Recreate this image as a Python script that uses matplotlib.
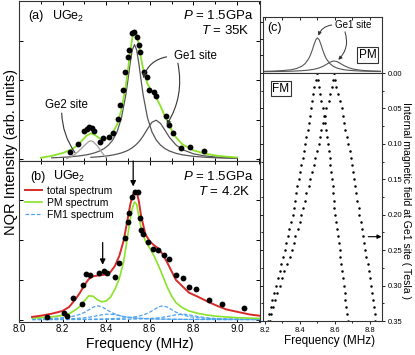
import matplotlib
matplotlib.use('Agg')
import matplotlib.pyplot as plt
from matplotlib.ticker import MultipleLocator, FormatStrFormatter, NullFormatter

plt.rcParams['font.family'] = ['Liberation Sans', 'DejaVu Sans']
plt.rcParams['mathtext.fontset'] = 'custom'
plt.rcParams['mathtext.rm'] = 'Liberation Sans'
plt.rcParams['mathtext.it'] = 'Liberation Sans:italic'
plt.rcParams['axes.linewidth'] = 0.8

####Panel (a): UGe2, P = 1.5GPa, T = 35K
freq_a = [8.10, 8.15, 8.20, 8.24, 8.27, 8.29, 8.31, 8.33, 8.35, 8.37,
          8.39, 8.41, 8.43, 8.45, 8.47, 8.49, 8.50, 8.51, 8.52, 8.53,
          8.54, 8.55, 8.56, 8.57, 8.59, 8.61, 8.63, 8.65, 8.67, 8.69,
          8.72, 8.75, 8.80, 8.85, 8.90, 8.95, 9.00]
total_a = [0.04, 0.09, 0.16, 0.25, 0.36, 0.48, 0.60, 0.66, 0.61, 0.53,
           0.51, 0.55, 0.67, 0.88, 1.25, 1.85, 2.26, 2.70, 3.07, 3.25,
           3.17, 2.90, 2.56, 2.27, 1.90, 1.72, 1.56, 1.34, 1.08, 0.84,
           0.56, 0.38, 0.23, 0.15, 0.10, 0.07, 0.05]
ge1_main_a = [0.031, 0.040, 0.053, 0.068, 0.084, 0.099, 0.116, 0.140, 0.171, 0.213,
              0.272, 0.358, 0.488, 0.697, 1.044, 1.620, 2.008, 2.421, 2.764, 2.900,
              2.764, 2.421, 2.008, 1.620, 1.044, 0.697, 0.488, 0.358, 0.272, 0.213,
              0.154, 0.116, 0.078, 0.056, 0.042, 0.033, 0.026]
ge1_side_a = [0.052, 0.060, 0.069,
              0.080, 0.093, 0.111, 0.134, 0.164, 0.205, 0.230, 0.260, 0.296, 0.338,
              0.388, 0.446, 0.514, 0.593, 0.772, 0.938, 0.990, 0.905, 0.735, 0.560,
              0.367, 0.248, 0.142, 0.090, 0.062, 0.045, 0.034]   # from 8.33 MHz
freq_ge2 = [8.22, 8.24, 8.26, 8.28, 8.30, 8.32, 8.33, 8.34, 8.36, 8.38, 8.40]
ge2_a = [0.02, 0.07, 0.14, 0.24, 0.35, 0.45, 0.47, 0.45, 0.34, 0.18, 0.04]

dots_fa = [8.234, 8.272, 8.297, 8.312, 8.323, 8.333, 8.345, 8.372, 8.384, 8.414,
           8.430, 8.456, 8.465, 8.476, 8.488, 8.498, 8.506, 8.518, 8.529, 8.540,
           8.549, 8.557, 8.575, 8.587, 8.598, 8.618, 8.628, 8.674, 8.687, 8.705,
           8.743, 8.784, 8.850]
dots_ia = [0.19, 0.39, 0.72, 0.76, 0.81, 0.79, 0.72, 0.45, 0.53, 0.57,
           0.66, 1.01, 1.37, 1.75, 2.21, 2.59, 2.76, 3.20, 3.22, 3.10,
           2.89, 2.72, 2.21, 2.09, 1.75, 1.71, 1.60, 1.10, 0.87, 0.66,
           0.28, 0.31, 0.22]

####Panel (b): UGe2, P = 1.5GPa, T = 4.2K
freq_b = [8.06, 8.10, 8.15, 8.20, 8.23, 8.26, 8.28, 8.30, 8.32, 8.34,
          8.36, 8.38, 8.40, 8.42, 8.44, 8.46, 8.48, 8.50, 8.51, 8.52,
          8.53, 8.54, 8.55, 8.56, 8.58, 8.60, 8.62, 8.64, 8.66, 8.68,
          8.70, 8.72, 8.75, 8.78, 8.82, 8.86, 8.90, 8.95, 9.00, 9.06,
          9.12]
total_b = [0.07, 0.10, 0.15, 0.22, 0.32, 0.52, 0.68, 0.87, 1.02, 1.09,
           1.11, 1.12, 1.14, 1.20, 1.35, 1.60, 1.98, 2.57, 2.88, 3.10,
           3.24, 3.22, 2.98, 2.62, 2.15, 1.97, 1.87, 1.79, 1.64, 1.44,
           1.22, 1.00, 0.84, 0.68, 0.58, 0.47, 0.37, 0.26, 0.20, 0.13,
           0.09]
pm_b = [0.04, 0.05, 0.07, 0.11, 0.15, 0.25, 0.34, 0.47, 0.60, 0.59,
        0.50, 0.45, 0.47, 0.57, 0.76, 1.03, 1.45, 2.15, 2.52, 2.80,
        2.96, 2.90, 2.60, 2.32, 1.98, 1.80, 1.60, 1.36, 1.10, 0.82,
        0.60, 0.43, 0.30, 0.22, 0.16, 0.12, 0.09, 0.07, 0.05, 0.04,
        0.03]
fm1_peak1 = [0.015, 0.020, 0.030, 0.049, 0.068, 0.101, 0.135, 0.183, 0.247, 0.314,
             0.350, 0.325, 0.261, 0.195, 0.143, 0.107, 0.081, 0.064, 0.057, 0.051,
             0.046, 0.041, 0.037, 0.034, 0.029, 0.024, 0.021, 0.018, 0.016, 0.014,
             0.012, 0.011, 0.009, 0.008, 0.007, 0.006, 0.005, 0.004, 0.004, 0.003,
             0.003]
fm1_peak2 = [0.004, 0.005, 0.006, 0.007, 0.008, 0.009, 0.010, 0.011, 0.012, 0.014,
             0.016, 0.018, 0.021, 0.024, 0.028, 0.033, 0.040, 0.050, 0.055, 0.062,
             0.070, 0.079, 0.091, 0.104, 0.139, 0.189, 0.254, 0.320, 0.350, 0.320,
             0.254, 0.189, 0.120, 0.079, 0.050, 0.033, 0.024, 0.017, 0.012, 0.009,
             0.007]
fm1_peak3 = [0.007, 0.009, 0.012, 0.018, 0.023, 0.031, 0.038, 0.048, 0.062, 0.079,
             0.101, 0.123, 0.138, 0.138, 0.123, 0.101, 0.079, 0.062, 0.055, 0.048,
             0.043, 0.038, 0.034, 0.031, 0.025, 0.021, 0.018, 0.015, 0.013, 0.011,
             0.010, 0.009, 0.007, 0.006, 0.005, 0.004, 0.004, 0.003, 0.003, 0.002,
             0.002]
fm1_peak4 = [0.002, 0.002, 0.002, 0.003, 0.003, 0.004, 0.004, 0.004, 0.005, 0.005,
             0.006, 0.006, 0.007, 0.008, 0.009, 0.010, 0.011, 0.013, 0.014, 0.015,
             0.016, 0.018, 0.019, 0.021, 0.025, 0.031, 0.038, 0.048, 0.062, 0.079,
             0.101, 0.123, 0.140, 0.123, 0.079, 0.048, 0.031, 0.019, 0.013, 0.009,
             0.006]
dots_fb = [8.128, 8.208, 8.219, 8.246, 8.289, 8.296, 8.307, 8.327, 8.369, 8.388,
           8.406, 8.442, 8.457, 8.486, 8.498, 8.506, 8.518, 8.532, 8.547, 8.553,
           8.560, 8.570, 8.591, 8.616, 8.636, 8.664, 8.690, 8.720, 8.751, 8.781,
           8.812, 8.873, 8.931, 9.034]
dots_ib = [0.08, 0.16, 0.09, 0.55, 0.39, 0.86, 1.14, 1.12, 1.17, 1.23,
           1.18, 1.08, 1.42, 2.05, 2.45, 2.68, 3.09, 3.22, 3.22, 2.55,
           2.26, 2.16, 1.96, 1.77, 1.75, 1.63, 1.53, 1.12, 1.04, 0.83,
           0.77, 0.50, 0.39, 0.30]

####Panel (c): Ge1 site spectrum (PM) and line positions vs internal field (FM)
freq_c = [8.19, 8.25, 8.30, 8.35, 8.38, 8.41, 8.43, 8.45, 8.46, 8.47,
          8.48, 8.49, 8.50, 8.51, 8.52, 8.53, 8.54, 8.55, 8.57, 8.59,
          8.61, 8.63, 8.65, 8.68, 8.71, 8.75, 8.80, 8.86]
ge1_low_c = [0.010, 0.015, 0.024, 0.039, 0.062, 0.102, 0.153, 0.242, 0.310, 0.397,
             0.496, 0.584, 0.620, 0.584, 0.496, 0.397, 0.310, 0.242, 0.153, 0.102,
             0.072, 0.054, 0.039, 0.029, 0.022, 0.015, 0.011, 0.008]
ge1_high_c = [0.005, 0.007, 0.009, 0.013, 0.017, 0.022, 0.027, 0.033, 0.038, 0.043,
              0.048, 0.055, 0.064, 0.074, 0.086, 0.100, 0.117, 0.135, 0.174, 0.199,
              0.190, 0.155, 0.117, 0.074, 0.048, 0.030, 0.018, 0.011]
field_c = [0.00, 0.01, 0.02, 0.03, 0.04, 0.05, 0.06, 0.07, 0.08, 0.09,
           0.10, 0.11, 0.12, 0.13, 0.14, 0.15, 0.16, 0.17, 0.18, 0.19,
           0.20, 0.21, 0.22, 0.23, 0.24, 0.25, 0.26, 0.27, 0.28, 0.29,
           0.30, 0.31, 0.32, 0.33, 0.34, 0.35]
line_1 = [8.497, 8.491, 8.482, 8.474, 8.469, 8.463, 8.455, 8.450, 8.444, 8.436,
          8.430, 8.423, 8.415, 8.408, 8.402, 8.392, 8.383, 8.375, 8.370, 8.364,
          8.358, 8.349, 8.339, 8.331, 8.322, 8.312, 8.303, 8.293, 8.284, 8.272,
          8.263, 8.253, 8.240, 8.234, 8.225, 8.217]
line_2 = [8.592, 8.587, 8.583, 8.573, 8.564, 8.549, 8.541, 8.531, 8.522, 8.516,
          8.507, 8.497, 8.488, 8.478, 8.469, 8.459, 8.450, 8.436, 8.427, 8.417,
          8.408, 8.398, 8.387, 8.373, 8.364, 8.354, 8.341, 8.325, 8.311, 8.297,
          8.284, 8.271, 8.259, 8.248, 8.237, 8.226]
line_3 = [8.497, 8.501, 8.507, 8.516, 8.522, 8.530, 8.535, 8.545, 8.549, 8.554,
          8.560, 8.564, 8.570, 8.573, 8.577, 8.583, 8.587, 8.589, 8.592, 8.596,
          8.602, 8.606, 8.611, 8.617, 8.621, 8.627, 8.630, 8.634, 8.640, 8.644,
          8.650, 8.655, 8.659, 8.663, 8.669, 8.672]
line_4 = [8.592, 8.598, 8.606, 8.617, 8.630, 8.640, 8.646, 8.653, 8.659, 8.669,
          8.674, 8.684, 8.691, 8.697, 8.703, 8.709, 8.716, 8.720, 8.726, 8.735,
          8.739, 8.749, 8.754, 8.760, 8.764, 8.773, 8.779, 8.787, 8.792, 8.798,
          8.806, 8.811, 8.817, 8.823, 8.827, 8.831]

####Colours
green = '#8ae32a'
red = '#d92a2a'
blue = '#4ea3f0'
dark = '#555555'
light = '#a0a0a0'

W, H = 415.0, 355.0
def rect(x0, x1, y0, y1):
    return [x0 / W, 1 - y1 / H, (x1 - x0) / W, (y1 - y0) / H]

fig = plt.figure(figsize=(4.15, 3.55), dpi=100)
ax_a = fig.add_axes(rect(19, 260, 1, 161))
ax_b = fig.add_axes(rect(19, 260, 161, 322))
ax_ct = fig.add_axes(rect(263, 382, 17, 73))
ax_c = fig.add_axes(rect(263, 382, 73, 321))

for ax in (ax_a, ax_b):
    ax.set_xlim(8.0, 9.106)
    ax.xaxis.set_major_locator(MultipleLocator(0.2))
    ax.xaxis.set_minor_locator(MultipleLocator(0.1))
    ax.yaxis.set_major_locator(MultipleLocator(1))
    ax.yaxis.set_major_formatter(NullFormatter())
    ax.tick_params(which='both', direction='in', top=True, right=True, length=3, width=0.7,
                   labelsize=7, pad=1.5)
    ax.tick_params(which='minor', length=2)
    for s in ax.spines.values():
        s.set_color('#333333')
ax_a.set_ylim(-0.04, 4.0)
ax_b.set_ylim(-0.058, 3.99)
ax_a.xaxis.set_major_formatter(NullFormatter())
ax_b.xaxis.set_major_formatter(FormatStrFormatter('%.1f'))

#### (a)
ax_a.plot(freq_a[1:], ge1_main_a[1:], color=dark, lw=0.9)
ax_a.plot(freq_a[7:], ge1_side_a, color=dark, lw=0.9)
ax_a.plot(freq_ge2, ge2_a, color=light, lw=0.9)
ax_a.plot(freq_a, total_a, color=green, lw=1.3)
ax_a.plot(dots_fa, dots_ia, 'o', color='black', ms=4.2, mew=0)

ax_a.text(0.038, 0.905, '(a)', transform=ax_a.transAxes, fontsize=9, va='center')
ax_a.text(0.138, 0.905, 'UGe$_2$', transform=ax_a.transAxes, fontsize=9, va='center')
ax_a.text(0.975, 0.91, '$P$ = 1.5GPa', transform=ax_a.transAxes, fontsize=9.5, va='center', ha='right')
ax_a.text(0.955, 0.815, '$T$ = 35K', transform=ax_a.transAxes, fontsize=9.5, va='center', ha='right')

ax_a.text(8.812, 2.62, 'Ge1 site', fontsize=8.3, ha='center', va='center')
ax_a.annotate('', xy=(8.570, 2.05), xytext=(8.677, 2.59),
              arrowprops=dict(arrowstyle='-|>', color='#333333', lw=0.8, mutation_scale=6,
                              shrinkA=0, shrinkB=0, connectionstyle='arc3,rad=0.3'))
ax_a.annotate('', xy=(8.677, 0.87), xytext=(8.729, 2.43),
              arrowprops=dict(arrowstyle='-|>', color='#333333', lw=0.8, mutation_scale=6,
                              shrinkA=0, shrinkB=0, connectionstyle='arc3,rad=-0.2'))
ax_a.text(8.216, 1.37, 'Ge2 site', fontsize=8.3, ha='center', va='center')
ax_a.annotate('', xy=(8.257, 0.17), xytext=(8.196, 1.17),
              arrowprops=dict(arrowstyle='-', color='#333333', lw=0.8,
                              shrinkA=0, shrinkB=0, connectionstyle='arc3,rad=0.15'))

#### (b)
for pk in (fm1_peak1, fm1_peak2, fm1_peak3, fm1_peak4):
    ax_b.plot(freq_b, pk, color=blue, lw=0.9, ls=(0, (3, 1.5)))
ax_b.plot(freq_b, pm_b, color=green, lw=1.2)
ax_b.plot(freq_b, total_b, color=red, lw=1.4)
ax_b.plot(dots_fb, dots_ib, 'o', color='black', ms=4.2, mew=0)

ax_b.plot([], [], color=red, lw=1.4, label='total spectrum')
ax_b.plot([], [], color=green, lw=1.2, label='PM spectrum')
ax_b.plot([], [], color=blue, lw=0.9, ls=(0, (3, 1.5)), label='FM1 spectrum')
h, l = ax_b.get_legend_handles_labels()
ax_b.legend(h[-3:], l[-3:], loc='upper left', bbox_to_anchor=(0.025, 0.845), frameon=False,
            fontsize=7.5, handlelength=1.6, handletextpad=0.5, labelspacing=0.2,
            borderpad=0, borderaxespad=0)

ax_b.text(0.046, 0.902, '(b)', transform=ax_b.transAxes, fontsize=9, va='center')
ax_b.text(0.142, 0.902, 'UGe$_2$', transform=ax_b.transAxes, fontsize=9, va='center')
ax_b.text(0.975, 0.905, '$P$ = 1.5GPa', transform=ax_b.transAxes, fontsize=9.5, va='center', ha='right')
ax_b.text(0.96, 0.81, '$T$ = 4.2K', transform=ax_b.transAxes, fontsize=9.5, va='center', ha='right')

ax_b.annotate('', xy=(8.524, 3.35), xytext=(8.524, 3.99),
              arrowprops=dict(arrowstyle='-|>', color='black', lw=0.9, mutation_scale=8,
                              shrinkA=0, shrinkB=0))
ax_b.annotate('', xy=(8.384, 1.38), xytext=(8.384, 1.94),
              arrowprops=dict(arrowstyle='-|>', color='black', lw=0.9, mutation_scale=8,
                              shrinkA=0, shrinkB=0))

#### (c)
for ax in (ax_ct, ax_c):
    ax.set_xlim(8.1886, 8.8686)
    ax.xaxis.set_major_locator(MultipleLocator(0.2))
    ax.xaxis.set_minor_locator(MultipleLocator(0.1))
    for s in ax.spines.values():
        s.set_color('#333333')
ax_ct.set_ylim(-0.02, 1.0)
ax_ct.set_yticks([0.3, 0.6, 0.9])
ax_ct.tick_params(which='both', direction='in', top=True, bottom=False, labelbottom=False,
                  labelleft=False, length=2, width=0.6)
ax_ct.tick_params(axis='y', direction='out')
ax_ct.plot(freq_c, ge1_low_c, color=dark, lw=0.8)
ax_ct.plot(freq_c, ge1_high_c, color=dark, lw=0.8)

ax_ct.text(0.034, 0.80, '(c)', transform=ax_ct.transAxes, fontsize=9, va='center')
ax_ct.text(0.76, 0.855, 'Ge1 site', transform=ax_ct.transAxes, fontsize=7, ha='center', va='center')
ax_ct.annotate('', xy=(8.505, 0.66), xytext=(8.581, 0.854),
               arrowprops=dict(arrowstyle='-|>', color='#333333', lw=0.7, mutation_scale=5,
                               shrinkA=0, shrinkB=0, connectionstyle='arc3,rad=0.3'))
ax_ct.annotate('', xy=(8.619, 0.22), xytext=(8.657, 0.73),
               arrowprops=dict(arrowstyle='-|>', color='#333333', lw=0.7, mutation_scale=5,
                               shrinkA=0, shrinkB=0, connectionstyle='arc3,rad=-0.3'))
ax_ct.text(0.878, 0.32, 'PM', transform=ax_ct.transAxes, fontsize=8.5, ha='center', va='center',
           bbox=dict(boxstyle='square,pad=0.15', fc='white', ec='#333333', lw=0.8))

ax_c.set_ylim(0.35, 0.0)
ax_c.yaxis.set_major_locator(MultipleLocator(0.05))
ax_c.yaxis.set_minor_locator(MultipleLocator(0.025))
ax_c.yaxis.set_major_formatter(FormatStrFormatter('%.2f'))
ax_c.xaxis.set_major_formatter(FormatStrFormatter('%.1f'))
ax_c.tick_params(which='both', direction='out', left=True, right=True, top=False,
                 labelleft=False, labelright=True, length=2.5, width=0.6, labelsize=5.5, pad=1.5)
ax_c.tick_params(which='minor', length=1.5)
for ln in (line_1, line_2, line_3, line_4):
    ax_c.plot(ln, field_c, 'o', color='black', ms=1.8, mew=0)
ax_c.text(0.151, 0.9375, 'FM', transform=ax_c.transAxes, fontsize=8.5, ha='center', va='center',
          bbox=dict(boxstyle='square,pad=0.15', fc='white', ec='#333333', lw=0.8))
ax_c.annotate('', xy=(8.866, 0.231), xytext=(8.79, 0.231),
              arrowprops=dict(arrowstyle='-|>', color='black', lw=0.8, mutation_scale=6,
                              shrinkA=0, shrinkB=0), annotation_clip=False)

####Axis titles
fig.text(139.5 / W, 1 - 344 / H, 'Frequency (MHz)', fontsize=10, ha='center', va='center')
fig.text(330 / W, 1 - 341 / H, 'Frequency (MHz)', fontsize=8.5, ha='center', va='center')
fig.text(11 / W, 1 - 152 / H, 'NQR Intensity (arb. units)', fontsize=10.5, rotation=90,
         ha='center', va='center')
fig.text(406 / W, 1 - 200 / H, 'Internal magnetic field at Ge1 site ( Tesla )', fontsize=7.6,
         rotation=270, ha='center', va='center')

plt.savefig('out.png', dpi=100)
plt.close()
